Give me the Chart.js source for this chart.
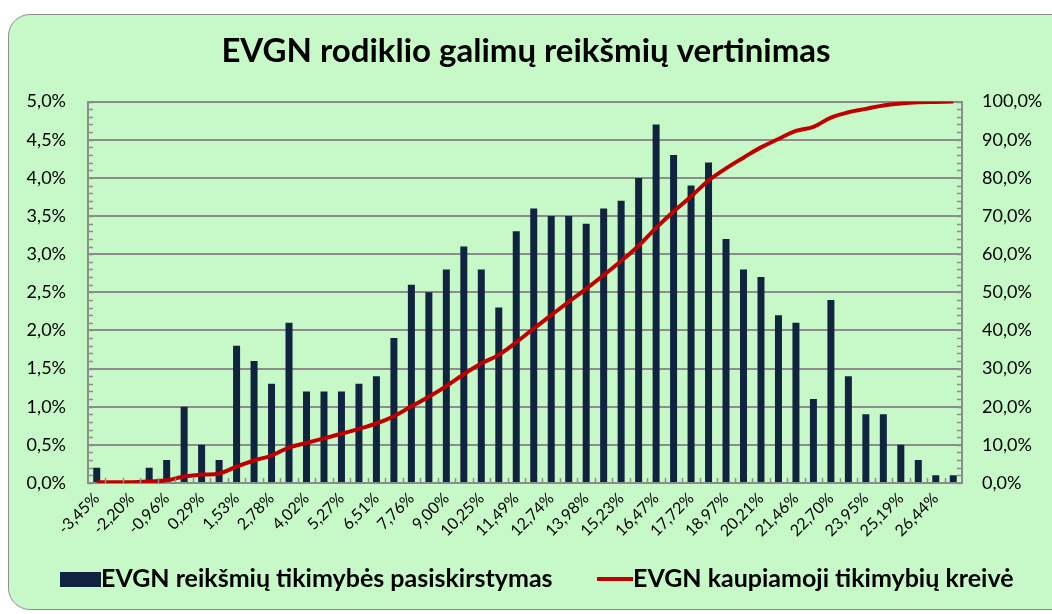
<!DOCTYPE html>
<html>
<head>
<meta charset="utf-8">
<script src="https://cdn.jsdelivr.net/npm/chart.js@4/dist/chart.umd.min.js"></script>
<style>
    body { margin: 0; width: 1052px; height: 614px; overflow: hidden; background: #ffffff; font-family: Lato, sans-serif; }
    #frame { position: absolute; left: 8px; top: 14px; width: 1080px; height: 594px; background: #c7f8c7; border: 1.5px solid #8f8f8f; border-radius: 22px; }
    #chartBox { position: absolute; left: 0; top: 0; width: 1052px; height: 614px; }
    .legend { position: absolute; top: 562px; font-weight: bold; font-size: 25px; color: #000; white-space: nowrap; line-height: 30px; }
    .swatch { display: inline-block; vertical-align: middle; }
</style>
</head>
<body>
<div id="frame"></div>
<div id="chartBox"><canvas id="evgnChart" width="1052" height="614"></canvas></div>
<div class="legend" style="left:60px;"><span class="swatch" style="width:41px;height:15px;background:#10243f;margin-top:-3px;"></span>EVGN reikšmių tikimybės pasiskirstymas</div>
<div class="legend" style="left:597px;"><span class="swatch" style="width:36px;height:4px;background:#c00000;margin-top:-3px;"></span>EVGN kaupiamoji tikimybių kreivė</div>
<script>
// x categories (only every second one is labelled in the original)
const categoryLabels = [
    '-3,45%', '', '-2,20%', '', '-0,96%', '', '0,29%', '', '1,53%', '',
    '2,78%', '', '4,02%', '', '5,27%', '', '6,51%', '', '7,76%', '',
    '9,00%', '', '10,25%', '', '11,49%', '', '12,74%', '', '13,98%', '',
    '15,23%', '', '16,47%', '', '17,72%', '', '18,97%', '', '20,21%', '',
    '21,46%', '', '22,70%', '', '23,95%', '', '25,19%', '', '26,44%', ''
];

// probability distribution, %
const probabilityValues = [
    0.2, 0, 0, 0.2, 0.3, 1.0, 0.5, 0.3, 1.8, 1.6,
    1.3, 2.1, 1.2, 1.2, 1.2, 1.3, 1.4, 1.9, 2.6, 2.5,
    2.8, 3.1, 2.8, 2.3, 3.3, 3.6, 3.5, 3.5, 3.4, 3.6,
    3.7, 4.0, 4.7, 4.3, 3.9, 4.2, 3.2, 2.8, 2.7, 2.2,
    2.1, 1.1, 2.4, 1.4, 0.9, 0.9, 0.5, 0.3, 0.1, 0.1
];

// cumulative curve, %
const cumulativeValues = [
    0.2, 0.2, 0.2, 0.4, 0.7, 1.7, 2.2, 2.5, 4.3, 5.9,
    7.2, 9.3, 10.5, 11.7, 12.9, 14.2, 15.6, 17.5, 20.1, 22.6,
    25.4, 28.5, 31.3, 33.6, 36.9, 40.5, 44.0, 47.5, 50.9, 54.5,
    58.2, 62.2, 66.9, 71.2, 75.1, 79.3, 82.5, 85.3, 88.0, 90.2,
    92.3, 93.4, 95.8, 97.2, 98.1, 99.0, 99.5, 99.8, 99.9, 100.0
];

const leftTicks = [0, 0.5, 1.0, 1.5, 2.0, 2.5, 3.0, 3.5, 4.0, 4.5, 5.0];
const rightTicks = [0, 10, 20, 30, 40, 50, 60, 70, 80, 90, 100];

const gridColor = '#8c8c8c';

function pctLabel(value) {
    return value.toFixed(1).replace('.', ',') + '%';
}

// little inward tick marks like in the excel chart
const minorTicks = {
    id: 'minorTicks',
    afterDatasetsDraw(chart) {
        const ctx = chart.ctx;
        const area = chart.chartArea;
        const y = chart.scales.y;
        const y1 = chart.scales.y1;
        const x = chart.scales.x;
        ctx.save();
        ctx.strokeStyle = gridColor;
        ctx.lineWidth = 1.5;
        ctx.beginPath();
        for (let i = 0; i <= 50; i++) {
            const py = Math.round(y.getPixelForValue(i / 10)) + 0.5;
            ctx.moveTo(area.left, py);
            ctx.lineTo(area.left + 5, py);
            const py1 = Math.round(y1.getPixelForValue(i * 2)) + 0.5;
            ctx.moveTo(area.right - 5, py1);
            ctx.lineTo(area.right, py1);
        }
        for (let i = 1; i < categoryLabels.length; i++) {
            const px = Math.round((x.getPixelForValue(i - 1) + x.getPixelForValue(i)) / 2) + 0.5;
            ctx.moveTo(px, area.bottom);
            ctx.lineTo(px, area.bottom - 5);
        }
        ctx.stroke();
        ctx.restore();
    }
};

const ctx = document.getElementById('evgnChart').getContext('2d');

new Chart(ctx, {
    type: 'bar',
    data: {
        labels: categoryLabels,
        datasets: [
            {
                type: 'line',
                label: 'EVGN kaupiamoji tikimybių kreivė',
                data: cumulativeValues,
                yAxisID: 'y1',
                borderColor: '#c00000',
                borderWidth: 4,
                pointRadius: 0,
                tension: 0.4,
                fill: false,
                order: 0
            },
            {
                type: 'bar',
                label: 'EVGN reikšmių tikimybės pasiskirstymas',
                data: probabilityValues,
                yAxisID: 'y',
                backgroundColor: '#10243f',
                borderColor: '#10243f',
                borderWidth: 0,
                barPercentage: 0.4,
                categoryPercentage: 1.0,
                order: 1
            }
        ]
    },
    options: {
        responsive: false,
        animation: false,
        layout: {
            padding: { left: 0, right: 0, top: 0, bottom: 0 }
        },
        plugins: {
            legend: { display: false },
            tooltip: { enabled: false },
            title: {
                display: true,
                text: 'EVGN rodiklio galimų reikšmių vertinimas',
                color: '#000',
                font: { family: 'Lato', size: 33, weight: 'bold', lineHeight: 1.2 },
                padding: { top: 32, bottom: 30 }
            }
        },
        scales: {
            x: {
                offset: true,
                grid: { display: false, drawTicks: false },
                border: { display: true, color: gridColor, width: 2 },
                ticks: {
                    autoSkip: false,
                    maxRotation: 45,
                    minRotation: 45,
                    padding: 6,
                    color: '#000',
                    font: { family: 'Lato', size: 16 }
                },
                afterFit: function(scale) {
                    scale.height = 131;
                }
            },
            y: {
                position: 'left',
                min: 0,
                max: 5,
                afterBuildTicks: function(scale) {
                    scale.ticks = leftTicks.map(v => ({ value: v }));
                },
                grid: { color: gridColor, lineWidth: 2, drawTicks: false },
                border: { display: true, color: gridColor, width: 2 },
                ticks: {
                    padding: 22,
                    color: '#000',
                    font: { family: 'Lato', size: 18 },
                    callback: function(value) {
                        return pctLabel(value);
                    }
                },
                afterFit: function(scale) {
                    scale.width = 88;
                }
            },
            y1: {
                position: 'right',
                min: 0,
                max: 100,
                afterBuildTicks: function(scale) {
                    scale.ticks = rightTicks.map(v => ({ value: v }));
                },
                grid: { display: false, drawTicks: false },
                border: { display: true, color: gridColor, width: 2 },
                ticks: {
                    padding: 20,
                    color: '#000',
                    font: { family: 'Lato', size: 18 },
                    callback: function(value) {
                        return pctLabel(value);
                    }
                },
                afterFit: function(scale) {
                    scale.width = 90;
                }
            }
        }
    },
    plugins: [minorTicks]
});
</script>
</body>
</html>
